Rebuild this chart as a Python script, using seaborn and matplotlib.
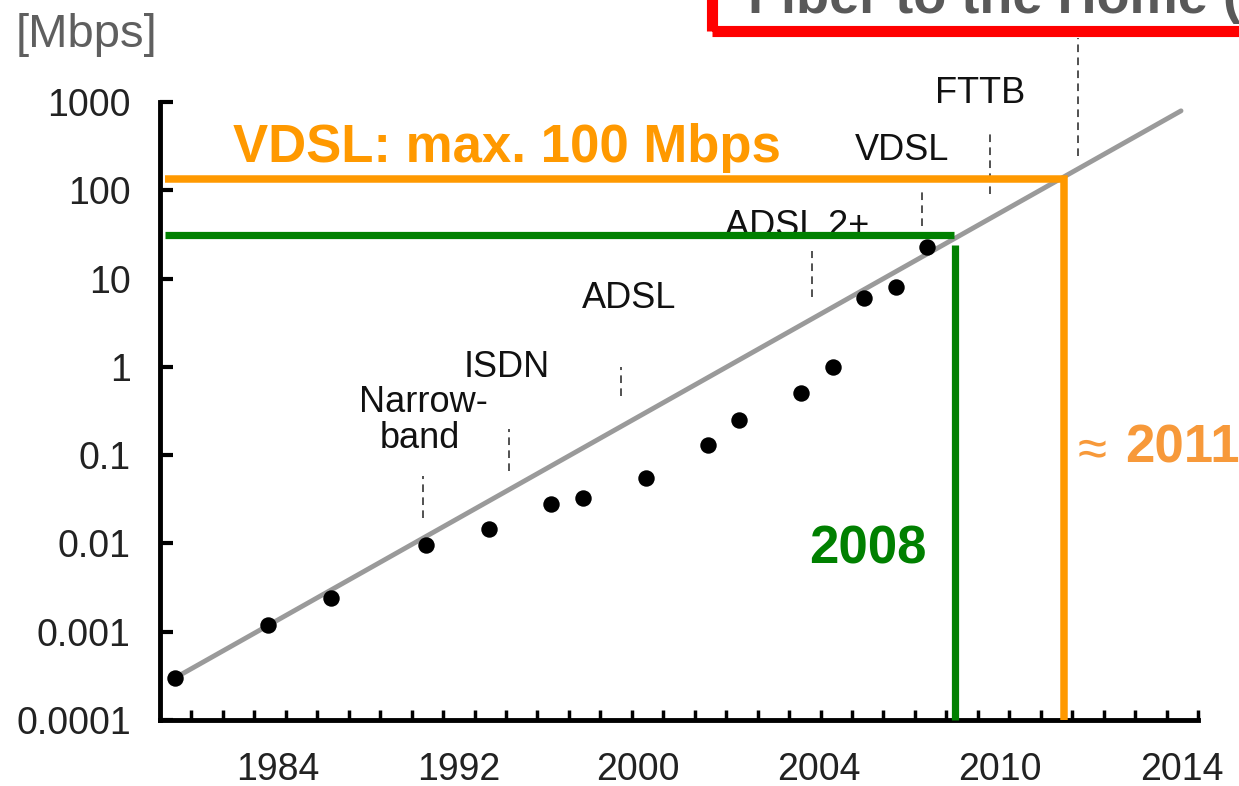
import numpy as np
import matplotlib
matplotlib.use("Agg")
from matplotlib import pyplot as plt
from matplotlib.patches import Rectangle
from matplotlib.ticker import NullLocator
import seaborn as sns

# x axis runs in "tick units" (one minor tick per unit), labels sit where the source put them
year_labels = ["1984", "1992", "2000", "2004", "2010", "2014"]
year_label_pos = [3.75, 9.5, 15.2, 20.95, 26.7, 32.5]

# measured access speeds (Mbps)
dot_x = [0.48, 3.43, 5.44, 8.46, 10.46, 12.43, 13.45, 15.45, 17.42, 18.41,
         20.38, 21.40, 22.38, 23.40, 24.39]
dot_mbps = [0.0003, 0.00118, 0.0024, 0.0097, 0.0146, 0.028, 0.033, 0.055,
            0.131, 0.25, 0.51, 1.0, 6.0, 8.05, 22.5]

# trend line end points
trend_x = [0.48, 32.46]
trend_mbps = [0.0003, 794]

# technology markers (dashed ticks)
tech_x = [8.36, 11.10, 14.66, 20.73, 24.23, 26.39, 29.19]
tech_lo = [0.0195, 0.0664, 0.47, 6.2, 39.5, 91, 245]
tech_hi = [0.0583, 0.199, 1.0, 20.6, 104, 447, 5300]

# highlight lines
vdsl_mbps = 134.6
vdsl_year = 28.74
adsl_mbps = 30.8
adsl_year = 25.24
adsl_top = 24.1

W, H = 1239, 786
ORANGE = "#FF9900"
ORANGE_TXT = "#F7993A"
GREEN = "#008000"


def fxy(px, py):
    # pixel position (from top-left) -> figure fraction
    return px / W, 1 - py / H


sns.set_style("white")
plt.rcParams["font.family"] = ["Liberation Sans", "DejaVu Sans"]

fig = plt.figure(figsize=(W / 100, H / 100), dpi=100)
ax = fig.add_axes([160 / W, (H - 720) / H, 1038 / W, 618 / H])

sns.lineplot(x=trend_x, y=trend_mbps, ax=ax, color="#9a9a9a", lw=3.5, zorder=2)
sns.scatterplot(x=dot_x, y=dot_mbps, ax=ax, color="black", s=140,
                linewidth=0, zorder=5)

ax.set_yscale("log")
ax.set_xlim(0, 33)
ax.set_ylim(1e-4, 1e3)

# dashed technology markers
ax.vlines(tech_x, tech_lo, tech_hi, colors="#222222", linestyles=(0, (5, 3.5)),
          lw=1.1, clip_on=False, zorder=3)

# 100 Mbps / 2011 and 30 Mbps / 2008 guide lines
ax.plot([0.16, vdsl_year, vdsl_year], [vdsl_mbps, vdsl_mbps, 1e-4], color=ORANGE,
        lw=5.4, solid_joinstyle="miter", solid_capstyle="butt", zorder=6, clip_on=False)
ax.plot([0.16, adsl_year], [adsl_mbps, adsl_mbps], color=GREEN, lw=5.2,
        solid_capstyle="butt", zorder=6)
ax.plot([adsl_year + 0.04, adsl_year + 0.04], [1e-4, adsl_top], color=GREEN, lw=5.2,
        solid_capstyle="butt", zorder=6, clip_on=False)

# axes styling
for side in ["top", "right"]:
    ax.spines[side].set_visible(False)
for side in ["left", "bottom"]:
    ax.spines[side].set_linewidth(3.5)
    ax.spines[side].set_color("black")

ax.set_yticks([1e-4, 1e-3, 1e-2, 1e-1, 1, 10, 100, 1000],
              labels=["0.0001", "0.001", "0.01", "0.1", "1", "10", "100", "1000"])
ax.yaxis.set_minor_locator(NullLocator())
ax.set_xticks(year_label_pos, labels=year_labels)
ax.set_xticks(np.arange(1, 34), minor=True)
ax.tick_params(axis="y", which="major", left=True, direction="in", length=9,
               width=3, color="black", labelsize=27, labelcolor="#222222", pad=21)
ax.tick_params(axis="x", which="major", bottom=True, length=0, labelsize=27,
               labelcolor="#222222", pad=23)
ax.tick_params(axis="x", which="minor", bottom=True, direction="in", length=7,
               width=2.5, color="black")

# technology labels
tech_labels = [("Narrow-", 423, 412), ("band", 420, 448), ("ISDN", 507, 377),
               ("ADSL", 629, 308), ("ADSL 2+", 797, 236), ("VDSL", 902, 160),
               ("FTTB", 980, 103)]
for txt, px, py in tech_labels:
    ax.text(*fxy(px, py), txt, transform=fig.transFigure, ha="center",
            va="baseline", fontsize=26, color="#111111", zorder=3)

ax.text(*fxy(16, 47), "[Mbps]", transform=fig.transFigure, ha="left",
        va="baseline", fontsize=34, color="#5f5f5f")
ax.text(*fxy(233, 162), "VDSL: max. 100 Mbps", transform=fig.transFigure,
        ha="left", va="baseline", fontsize=38, fontweight="bold", color=ORANGE)
ax.text(*fxy(809, 563), "2008", transform=fig.transFigure, ha="left",
        va="baseline", fontsize=38, fontweight="bold", color=GREEN)
ax.text(*fxy(1078, 451), "≈", transform=fig.transFigure, ha="left",
        va="center", fontsize=38, color=ORANGE_TXT)
ax.text(*fxy(1125, 463), "2011", transform=fig.transFigure, ha="left",
        va="baseline", fontsize=38, fontweight="bold", color=ORANGE_TXT)

# red FTTH box, cut by the top / right edge of the figure
ax.text(*fxy(748, 13), "Fiber to the Home (FTTH)", transform=fig.transFigure,
        ha="left", va="baseline", fontsize=39, fontweight="bold", color="#595959")
fig.add_artist(Rectangle(fxy(712, 31), (1500 - 712) / W, 1.0, fill=False,
                         edgecolor="#FF0000", lw=8, transform=fig.transFigure,
                         clip_on=False))

fig.savefig("out.png", dpi=100)
